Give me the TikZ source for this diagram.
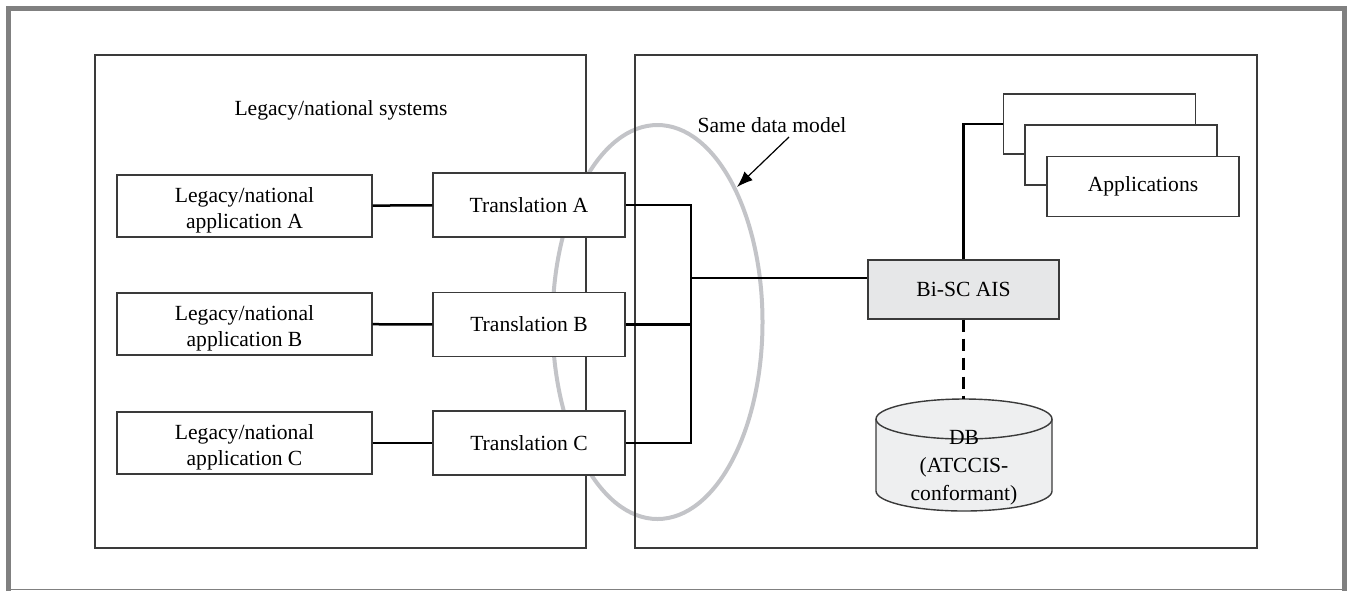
\documentclass[tikz,border=0pt]{standalone}
\usepackage{fontspec}
\setmainfont{Liberation Serif}
\usetikzlibrary{arrows.meta}
\definecolor{framegray}{HTML}{808080}
\definecolor{ellgray}{HTML}{C3C4C8}
\definecolor{boxfill}{HTML}{E6E7E8}
\definecolor{dbfill}{HTML}{EEEFF0}
\definecolor{edge}{HTML}{3A3A3A}
\newcommand{\legtext}[1]{\raisebox{-2.2pt}[\height][\depth]{\shortstack{Legacy/national\\[0.5pt]application #1}}}
\tikzset{
  txt/.style={font=\fontsize{10.8}{12.8}\selectfont, align=center},
  panel/.style={draw=edge, line width=0.65pt},
  boxstyle/.style={txt, draw=edge, line width=0.7pt, fill=white, inner sep=0pt},
  legacybox/.style={boxstyle, minimum width=127.5pt, minimum height=31pt},
  transbox/.style={boxstyle, minimum width=96pt, minimum height=32pt},
  appbox/.style={boxstyle, minimum width=96pt, minimum height=30pt},
  conn/.style={line width=1.25pt, black},
}
\begin{document}
\begin{tikzpicture}[x=0.5pt, y=-0.5pt]
\useasboundingbox (0,0) rectangle (1347,591);
% outer frame
\draw[framegray, line width=2.5pt] (8.5,591) -- (8.5,8.5) -- (1344.5,8.5) -- (1344.5,591);
\draw[framegray, line width=0.6pt] (8.5,589.5) -- (1344.5,589.5);
% ellipse (same data model)
\draw[ellgray, line width=2pt] (657.5,322) ellipse [x radius=52.5pt, y radius=98.5pt];
% panels
\draw[panel] (95,55) rectangle (586,548);
\draw[panel] (635,55) rectangle (1257,548);
\node[txt] (legtitle) at (341,110) {Legacy/national systems};
% legacy boxes
\node[legacybox] (lA) at (244.5,206) {\legtext{A}};
\node[legacybox] (lB) at (244.5,324) {\legtext{B}};
\node[legacybox] (lC) at (244.5,443) {\legtext{C}};
% translation boxes
\node[transbox] (tA) at (529,205) {Translation A};
\node[transbox] (tB) at (529,324.5) {Translation B};
\node[transbox] (tC) at (529,443) {Translation C};
\draw[conn] (lA) -- (tA);
\draw[conn] (lB) -- (tB);
\draw[conn] (lC) -- (tC);
% bus
\coordinate (bus) at (691,278);
\draw[conn] (tA.east) -| (bus);
\draw[conn] (tC.east) -| (bus);
\draw[conn] (tB.east) -- (tB.east -| bus);
% Bi-SC AIS
\node[boxstyle, fill=boxfill, minimum width=95.5pt, minimum height=29.5pt] (bisc) at (963.5,289.5) {Bi-SC AIS};
\draw[conn] (bus) -- (bus -| bisc.west);
% applications
\node[appbox] (app1) at (1099.5,124) {};
\node[appbox] (app2) at (1121,155) {};
\node[appbox] (app3) at (1143,186.5) {Applications};
\draw[conn] (bisc.north) |- (app1.west);
% same data model label
\node[txt] (sdm) at (772,125) {Same data model};
\coordinate (arrtail) at (789,137);
\coordinate (arrtip) at (737,187);
\draw[line width=0.6pt, -{Latex[length=8pt,width=6pt]}] (arrtail) -- (arrtip);
% database cylinder
\fill[dbfill] (876,419) -- (876,491) arc[start angle=180, end angle=360, x radius=44pt, y radius=10pt]
  -- (1052,419) arc[start angle=0, end angle=180, x radius=44pt, y radius=10pt] -- cycle;
\draw[edge, line width=0.7pt] (876,419) -- (876,491) arc[start angle=180, end angle=360, x radius=44pt, y radius=10pt]
  -- (1052,419) arc[start angle=0, end angle=180, x radius=44pt, y radius=10pt];
\draw[edge, line width=0.7pt] (876,419) arc[start angle=180, end angle=360, x radius=44pt, y radius=10pt];
\coordinate (dbtop) at (963.5,399);
\node[txt, font=\fontsize{10.8}{14}\selectfont] (db) at (964,468) {DB\\(ATCCIS-\\conformant)};
\draw[conn, dash pattern=on 6pt off 3.5pt] (bisc.south) -- (dbtop);
\end{tikzpicture}
\end{document}
